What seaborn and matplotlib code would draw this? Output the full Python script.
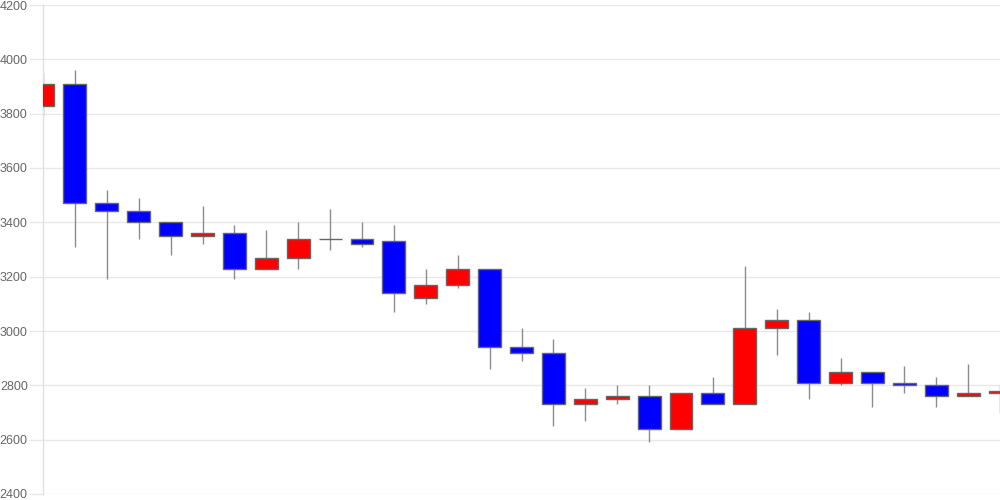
import matplotlib
matplotlib.use("Agg")
import matplotlib.pyplot as plt
import seaborn as sns
import pandas as pd
import numpy as np

# Daily OHLC values
opens  = [3830, 3910, 3470, 3440, 3400, 3350, 3360, 3230, 3270, 3340, 3340,
          3330, 3120, 3170, 3230, 2940, 2920, 2730, 2750, 2760, 2640, 2770,
          2730, 3010, 3040, 2810, 2850, 2810, 2800, 2760, 2770]
closes = [3910, 3470, 3440, 3400, 3350, 3360, 3230, 3270, 3340, 3340, 3320,
          3140, 3170, 3230, 2940, 2920, 2730, 2750, 2760, 2640, 2770, 2730,
          3010, 3040, 2810, 2850, 2810, 2800, 2760, 2770, 2780]
highs  = [3950, 3960, 3520, 3490, 3400, 3460, 3390, 3370, 3400, 3450, 3400,
          3390, 3230, 3280, 3230, 3010, 2970, 2790, 2800, 2800, 2770, 2830,
          3240, 3080, 3070, 2900, 2850, 2870, 2830, 2880, 2800]
lows   = [3790, 3310, 3190, 3340, 3280, 3320, 3190, 3230, 3230, 3300, 3310,
          3070, 3100, 3160, 2860, 2890, 2650, 2670, 2730, 2590, 2640, 2730,
          2730, 2910, 2750, 2800, 2720, 2770, 2720, 2760, 2700]
y_ticks = [2400, 2600, 2800, 3000, 3200, 3400, 3600, 3800, 4000, 4200]

df = pd.DataFrame({"open": opens, "close": closes, "high": highs, "low": lows})
df["idx"] = np.arange(len(df))
df["up"] = df["close"] >= df["open"]

sns.set_theme(style="white")
plt.rcParams["font.family"] = ["Liberation Sans", "DejaVu Sans"]

fig = plt.figure(figsize=(10, 5), dpi=100)
ax = fig.add_axes([0.043, 0.012, 0.957, 0.978])

# wicks
ax.vlines(df["idx"], df["low"], df["high"], color="#8c8c8c", linewidth=1, zorder=2)

# bodies
bottoms = np.minimum(df["open"], df["close"])
heights = np.abs(df["close"] - df["open"])
colors = ["#ff0000" if u else "#0000ff" for u in df["up"]]
ax.bar(df["idx"], heights, bottom=bottoms, width=0.72, color=colors,
       edgecolor="#666666", linewidth=1, zorder=3)

ax.set_xlim(0, len(df) - 1)
ax.set_ylim(2400, 4200)
ax.set_yticks(y_ticks)
ax.set_yticklabels([str(t) for t in y_ticks])
ax.set_xticks([])

ax.grid(axis="y", color="#e8e8e8", linewidth=1, zorder=0)
ax.set_axisbelow(True)
for s in ["top", "right", "bottom"]:
    ax.spines[s].set_visible(False)
ax.spines["left"].set_color("#e0e0e0")
ax.spines["left"].set_linewidth(1)
ax.tick_params(axis="y", which="both", left=True, length=10, width=1,
               color="#e8e8e8", labelsize=9, labelcolor="#666666", pad=1)

fig.savefig("out.png", dpi=100)
